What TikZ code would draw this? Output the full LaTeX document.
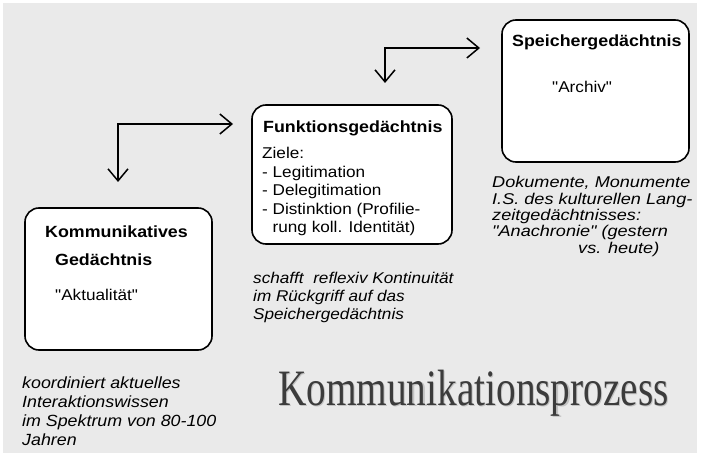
\documentclass[tikz,border=0pt]{standalone}
\usepackage{fontspec}
\setmainfont{Liberation Sans}[FakeStretch=1.1, Ligatures=TeXOff]
\newfontfamily\widesans{Liberation Sans}[FakeStretch=1.16, Ligatures=TeXOff]
\newfontfamily\headfont{Liberation Serif}[FakeStretch=0.77]
\usetikzlibrary{arrows.meta}
\definecolor{paper}{RGB}{234,234,234}
\definecolor{headgray}{RGB}{60,60,60}
\definecolor{shadowgray}{RGB}{195,195,195}
\tikzset{
  memorybox/.style={draw=black, line width=1.6pt, fill=white, rounded corners=14pt,
    inner sep=0pt},
  boxtitle/.style={anchor=base west, inner sep=0pt,
    font=\fontsize{16.2}{19}\selectfont\bfseries},
  boxtext/.style={anchor=base west, inner sep=0pt, align=left,
    font=\fontsize{15.6}{18.5}\selectfont},
  note/.style={anchor=base west, inner sep=0pt, align=left,
    font=\fontsize{15.6}{18}\selectfont\itshape},
  flow/.style={line width=1.5pt, {Straight Barb[length=12pt,width=20pt]}-{Straight Barb[length=12pt,width=20pt]}},
}
\begin{document}
\begin{tikzpicture}[x=1pt,y=-1pt]
  \useasboundingbox (0,0) rectangle (701,457);
  \fill[white] (0,0) rectangle (701,457);
  \fill[paper] (3,3) rectangle (697,453);

  % the three memory boxes
  \node[memorybox, minimum width=187pt, minimum height=142pt] (komm) at (118.5,279) {};
  \node[memorybox, minimum width=200pt, minimum height=139pt] (funk) at (352,174.5) {};
  \node[memorybox, minimum width=187pt, minimum height=142pt] (spei) at (595.5,91) {};

  % box contents (multi-line nodes sit on the baseline of their last line)
  \node[boxtitle] (kommA) at (45,237) {Kommunikatives};
  \node[boxtitle] (kommB) at (55,265) {Gedächtnis};
  \node[boxtext]  (kommC) at (55,300) {"Aktualität"};

  \node[boxtitle] (funkA) at (263,133) {Funktionsgedächtnis};
  \node[boxtext]  (funkB) at (262,233) {Ziele:\\- Legitimation\\- Delegitimation\\- Distinktion (Profilie-\\\phantom{- }rung koll. Identität)};

  \node[boxtitle] (speiA) at (512,47) {Speichergedächtnis};
  \node[boxtext]  (speiB) at (552,93) {"Archiv"};

  % notes under the boxes
  \node[note, font=\fontsize{16.2}{19}\selectfont\itshape] (noteK) at (22,445)
    {koordiniert aktuelles\\Interaktionswissen\\im Spektrum von 80-100\\Jahren};
  \node[note] (noteF) at (253,319) {schafft\ \ reflexiv Kontinuität\\im Rückgriff auf das\\Speichergedächtnis};
  \node[note, font=\fontsize{15.6}{16.3}\selectfont\widesans\itshape] (noteS) at (492,253)
    {Dokumente, Monumente\\I.S. des kulturellen Lang-\\zeitgedächtnisses:\\"Anachronie" (gestern\\\hspace*{86pt}vs. heute)};

  % heading with its soft shadow
  \node[anchor=base west, inner sep=0pt, text=shadowgray,
        font=\fontsize{51}{55}\headfont] (headS) at (279.2,406.2) {Kommunikationsprozess};
  \node[anchor=base west, inner sep=0pt, text=headgray,
        font=\fontsize{51}{55}\headfont] (head) at (278,405) {Kommunikationsprozess};

  % transfer arrows between the memories
  \coordinate (kommIn) at (118,182);
  \coordinate (funkIn) at (233,124);
  \coordinate (funkOut) at (385,83);
  \coordinate (speiIn) at (480,48);
  \draw[flow] (kommIn) |- (funkIn);
  \draw[flow] (funkOut) |- (speiIn);
\end{tikzpicture}
\end{document}
